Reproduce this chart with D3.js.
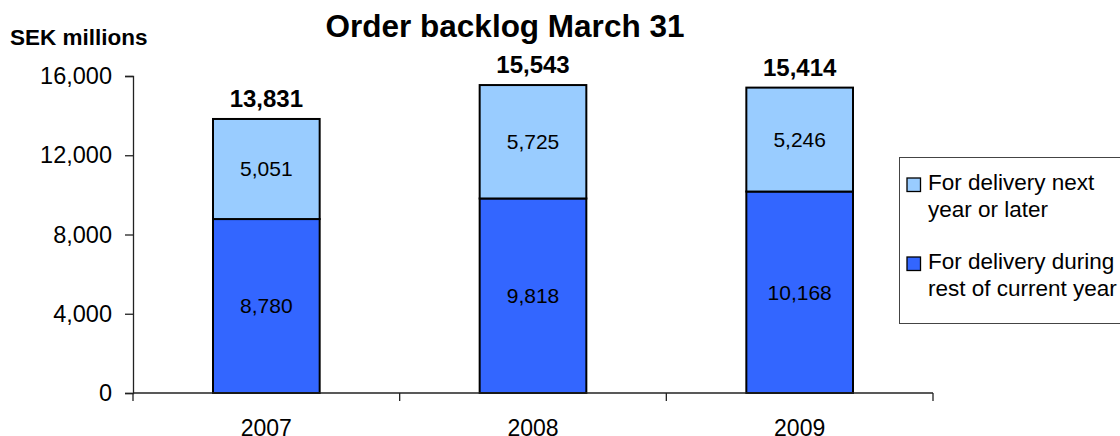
<!DOCTYPE html>
<html>
<head>
<meta charset="utf-8">
<script src="https://cdn.jsdelivr.net/npm/d3@7"></script>
<style>
  body { margin: 0; background: #fff; }
  svg { display: block; font-family: "Liberation Sans", Arial, sans-serif; }
</style>
</head>
<body>
<svg id="chart" width="1120" height="436"></svg>
<script>
// values (SEK millions)
var years = ["2007", "2008", "2009"];
var restOfYear = [8780, 9818, 10168];
var nextYear = [5051, 5725, 5246];
var totals = [13831, 15543, 15414];
var yTicks = [0, 4000, 8000, 12000, 16000];
var legendLabels = [
  ["For delivery next", "year or later"],
  ["For delivery during", "rest of current year"]
];

var colLight = "#99ccff", colDark = "#3366ff";

var svg = d3.select("#chart");
var fmt = d3.format(",");

var x = d3.scaleBand().domain(years).range([133, 933])
  .paddingInner(0.6).paddingOuter(0.3);
var y = d3.scaleLinear().domain([0, 16000]).range([393, 76]);

// title + unit
svg.append("text")
  .attr("x", 505).attr("y", 37)
  .attr("text-anchor", "middle")
  .style("font-size", "31.5px").style("font-weight", "bold")
  .text("Order backlog March 31");

svg.append("text")
  .attr("x", 10).attr("y", 45)
  .style("font-size", "22.5px").style("font-weight", "bold")
  .text("SEK millions");

// y axis
var yAxis = svg.append("g")
  .attr("transform", "translate(133,0)")
  .call(d3.axisLeft(y).tickValues(yTicks).tickFormat(fmt).tickSizeOuter(0).tickSize(8).tickPadding(13));
yAxis.select(".domain").attr("stroke", "#222").attr("stroke-width", 1.3);
yAxis.selectAll(".tick line").attr("stroke", "#222").attr("stroke-width", 1.3);
yAxis.selectAll(".tick text")
  .style("font-size", "23.5px").style("font-family", "Liberation Sans, Arial, sans-serif")
  .attr("fill", "#000");

// bars: lower segment, then upper segment
var bars = svg.append("g");
years.forEach(function(yr, i){
  bars.append("rect")
    .attr("x", x(yr)).attr("width", x.bandwidth())
    .attr("y", y(restOfYear[i])).attr("height", y(0) - y(restOfYear[i]))
    .attr("fill", colDark).attr("stroke", "#000").attr("stroke-width", 2);
  bars.append("rect")
    .attr("x", x(yr)).attr("width", x.bandwidth())
    .attr("y", y(restOfYear[i] + nextYear[i])).attr("height", y(restOfYear[i]) - y(restOfYear[i] + nextYear[i]))
    .attr("fill", colLight).attr("stroke", "#000").attr("stroke-width", 2);

  var cx = x(yr) + x.bandwidth() / 2;
  bars.append("text")
    .attr("x", cx).attr("y", (y(0) + y(restOfYear[i])) / 2)
    .attr("text-anchor", "middle").attr("dy", "0.35em")
    .style("font-size", "21px")
    .text(fmt(restOfYear[i]));
  bars.append("text")
    .attr("x", cx).attr("y", (y(restOfYear[i]) + y(restOfYear[i] + nextYear[i])) / 2)
    .attr("text-anchor", "middle").attr("dy", "0.35em")
    .style("font-size", "21px")
    .text(fmt(nextYear[i]));
  bars.append("text")
    .attr("x", cx).attr("y", y(totals[i]) - 12)
    .attr("text-anchor", "middle")
    .style("font-size", "24px").style("font-weight", "bold")
    .text(fmt(totals[i]));
});

// x axis with ticks between categories
var xAxis = svg.append("g");
xAxis.append("line")
  .attr("x1", x.range()[0]).attr("x2", x.range()[1])
  .attr("y1", y(0)).attr("y2", y(0))
  .attr("stroke", "#222").attr("stroke-width", 1.3);
var edges = [x.range()[0]].concat(years.map(function(yr){ return x(yr) + x.bandwidth() + x.step() * x.paddingInner() / 2; }));
edges[edges.length - 1] = x.range()[1];
edges.forEach(function(ex){
  xAxis.append("line")
    .attr("x1", ex).attr("x2", ex)
    .attr("y1", y(0)).attr("y2", y(0) + 8)
    .attr("stroke", "#222").attr("stroke-width", 1.3);
});
years.forEach(function(yr){
  xAxis.append("text")
    .attr("x", x(yr) + x.bandwidth() / 2).attr("y", 436)
    .attr("text-anchor", "middle")
    .style("font-size", "23px")
    .text(yr);
});

// legend
var lg = svg.append("g").attr("transform", "translate(899,157)");
lg.append("rect")
  .attr("x", 0.5).attr("y", 0.5).attr("width", 240).attr("height", 166)
  .attr("fill", "#fff").attr("stroke", "#444").attr("stroke-width", 1);
[colLight, colDark].forEach(function(c, i){
  var top = 21 + i * 79;
  lg.append("rect")
    .attr("x", 8).attr("y", top).attr("width", 13.5).attr("height", 13.5)
    .attr("fill", c).attr("stroke", "#000").attr("stroke-width", 1.3);
  legendLabels[i].forEach(function(line, j){
    lg.append("text")
      .attr("x", 29).attr("y", top + 12 + j * 27)
      .style("font-size", "22.5px")
      .text(line);
  });
});
</script>
</body>
</html>
